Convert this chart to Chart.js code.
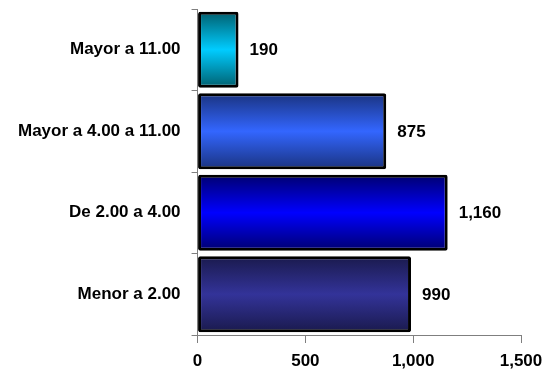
<!DOCTYPE html>
<html>
  <head>
    <script src="https://cdn.jsdelivr.net/npm/chart.js@4.4.0/dist/chart.umd.min.js"></script>
    <style>
      body { margin: 0; background-color: white; }
      #wrap { width: 545px; height: 369px; }
    </style>
  </head>
  <body>
    <div id="wrap"><canvas id="barChart"></canvas></div>
  <script>
    // categories and values
    let categories = ["Mayor a 11.00", "Mayor a 4.00 a 11.00", "De 2.00 a 4.00", "Menor a 2.00"];
    let values = [190, 875, 1160, 990];
    let xTicks = [0, 500, 1000, 1500];
    // gradient colours per bar: [edge, middle]
    let barColors = [
      ["#005f6e", "#00ccff"],
      ["#1a3380", "#3366ff"],
      ["#000070", "#0000ff"],
      ["#1a1a4d", "#333399"]
    ];

    // paint each bar with a vertical gradient once its size is known
    let gradientPlugin = {
      id: 'gradientBars',
      beforeDatasetsDraw(chart) {
        let ctx = chart.ctx;
        let meta = chart.getDatasetMeta(0);
        meta.data.forEach(function (bar, i) {
          let top = bar.y - bar.height / 2;
          let bottom = bar.y + bar.height / 2;
          let g = ctx.createLinearGradient(0, top, 0, bottom);
          g.addColorStop(0, barColors[i][0]);
          g.addColorStop(0.5, barColors[i][1]);
          g.addColorStop(1, barColors[i][0]);
          bar.options.backgroundColor = g;
        });
      }
    };

    // value labels to the right of each bar
    let labelPlugin = {
      id: 'valueLabels',
      afterDatasetsDraw(chart) {
        let ctx = chart.ctx;
        let meta = chart.getDatasetMeta(0);
        ctx.save();
        ctx.font = 'bold 17px "Liberation Sans", Arial, sans-serif';
        ctx.fillStyle = '#000';
        ctx.textAlign = 'left';
        ctx.textBaseline = 'middle';
        meta.data.forEach(function (bar, i) {
          ctx.fillText(values[i].toLocaleString('en-US'), bar.x + 11, bar.y + 1);
        });
        ctx.restore();
      }
    };

    var ctx = document.getElementById('barChart').getContext('2d');
    var barChart = new Chart(ctx, {
      type: 'bar',
      data: {
        labels: categories,
        datasets: [{
          data: values,
          backgroundColor: barColors.map(function (c) { return c[1]; }),
          borderColor: '#000',
          borderWidth: 3,
          borderRadius: 2,
          borderSkipped: false,
          barPercentage: 0.93,
          categoryPercentage: 1
        }]
      },
      options: {
        indexAxis: 'y',
        responsive: true,
        maintainAspectRatio: false,
        animation: false,
        layout: { padding: { left: 7, top: 9, right: 0, bottom: 0 } },
        plugins: {
          legend: { display: false },
          tooltip: { enabled: false }
        },
        scales: {
          x: {
            min: 0,
            max: 1500,
            afterBuildTicks: function (axis) {
              axis.ticks = xTicks.map(function (v) { return { value: v }; });
            },
            afterFit: function (axis) {
              axis.paddingRight = 24;
              axis.paddingLeft = 0;
              axis.height = 34;
            },
            grid: { drawOnChartArea: false, tickLength: 8, color: '#7f7f7f' },
            border: { color: '#7f7f7f', width: 1 },
            ticks: {
              padding: 10,
              color: '#000',
              font: { family: '"Liberation Sans", Arial, sans-serif', size: 17, weight: 'bold', lineHeight: 1 },
              callback: function (v) { return v.toLocaleString('en-US'); }
            }
          },
          y: {
            afterFit: function (axis) {
              axis.paddingTop = 0;
              axis.paddingBottom = 0;
            },
            grid: { drawOnChartArea: false, tickLength: 6, color: '#7f7f7f', offset: true },
            border: { color: '#7f7f7f', width: 1 },
            ticks: {
              padding: 11,
              color: '#000',
              font: { family: '"Liberation Sans", Arial, sans-serif', size: 17, weight: 'bold' }
            }
          }
        }
      },
      plugins: [gradientPlugin, labelPlugin]
    });
  </script>
  </body>
</html>
